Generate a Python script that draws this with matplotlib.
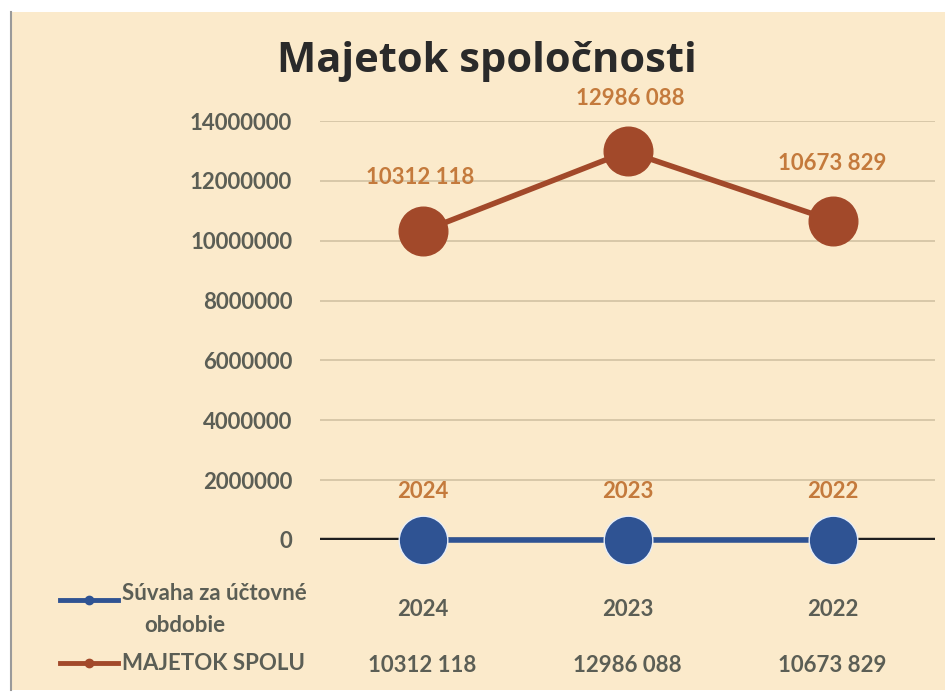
import matplotlib
matplotlib.use("Agg")
import matplotlib.pyplot as plt
import matplotlib.transforms as mtransforms
from matplotlib.lines import Line2D

plt.rcParams['font.family'] = ['Lato', 'DejaVu Sans']

categories = ["2024", "2023", "2022"]
suvaha = [2024, 2023, 2022]
majetok = [10312118, 12986088, 10673829]
majetok_labels = ["10312 118", "12986 088", "10673 829"]
series_names = ["Súvaha za účtovné\nobdobie", "MAJETOK SPOLU"]
yticks = [0, 2000000, 4000000, 6000000, 8000000, 10000000, 12000000, 14000000]

bg = "#fbeacb"
brown = "#a2492a"
blue = "#2f5393"
label_col = "#c47a3c"
tick_col = "#5b5e55"
fs = 16

fig = plt.figure(figsize=(9.47, 6.96), dpi=100)
fig.patch.set_facecolor("white")
# beige chart area with white margin on top and a thin grey left edge
bg_rect = plt.Rectangle((12 / 947, 6 / 696), 933 / 947, 678 / 696,
                        transform=fig.transFigure, facecolor=bg,
                        edgecolor="none", zorder=-5)
fig.patches.append(bg_rect)
fig.add_artist(Line2D([11 / 947, 11 / 947], [6 / 696, 684 / 696],
                      transform=fig.transFigure, color="#9a9a9a", lw=1.5))

ax = fig.add_axes([320 / 947, 1 - 540 / 696, 615 / 947, (540 - 121) / 696])
ax.set_facecolor("none")
x = range(len(categories))
ax.set_xlim(-0.5, len(categories) - 0.5)
ax.set_ylim(0, 14000000)
ax.set_yticks(yticks)
ax.set_yticklabels([str(v) for v in yticks], fontsize=fs, fontweight="bold",
                   color=tick_col)
ax.tick_params(axis="y", length=0, pad=20)
ax.set_xticks([])
for s in ax.spines.values():
    s.set_visible(False)
for v in yticks[1:]:
    ax.axhline(v, color="#d5c5a6", lw=1.3, zorder=1)
ax.axhline(0, color="#1e1e1e", lw=3.2, zorder=2)

ax.plot(x, majetok, color=brown, lw=4, marker="o", ms=35,
        markeredgecolor=brown, zorder=4, clip_on=False)
ax.plot(x, [0 for _ in suvaha], color=blue, lw=4, marker="o", ms=35,
        markeredgecolor="#e8eef8", markeredgewidth=1, zorder=4, clip_on=False)

offsets = [(-2, 54), (3, 53), (0, 57)]
for i, (lab, off) in enumerate(zip(majetok_labels, offsets)):
    ax.annotate(lab, (i, majetok[i]), xytext=off, textcoords="offset pixels",
                ha="center", va="center", fontsize=fs, fontweight="bold",
                color=label_col, zorder=5)
for i, v in enumerate(suvaha):
    ax.annotate(str(v), (i, 0), xytext=(0, 48), textcoords="offset pixels",
                ha="center", va="center", fontsize=fs, fontweight="bold",
                color=label_col, zorder=5)

fig.text(487 / 947, 1 - 62 / 696, "Majetok spoločnosti", ha="center",
         va="center", fontsize=30, fontweight="bold", color="#2a2a2a",
         family=["Open Sans", "DejaVu Sans"])

# data table below the plot
trans = mtransforms.blended_transform_factory(ax.transData, fig.transFigure)
row_y = [1 - 610 / 696, 1 - 665 / 696]
row_vals = [[str(v) for v in suvaha], majetok_labels]
for ry, vals in zip(row_y, row_vals):
    for i, t in enumerate(vals):
        fig.text(i, ry, t, transform=trans, ha="center", va="center",
                 fontsize=fs, fontweight="bold", color=tick_col)

key_colors = [blue, brown]
key_y = [1 - 600 / 696, 1 - 663 / 696]
for c, ky in zip(key_colors, key_y):
    fig.add_artist(Line2D([60 / 947, 118 / 947], [ky, ky],
                          transform=fig.transFigure, color=c, lw=3.5))
    fig.add_artist(Line2D([89 / 947], [ky], transform=fig.transFigure,
                          color=c, marker="o", ms=6))
fig.text(122 / 947, 1 - 593 / 696, "Súvaha za účtovné", ha="left",
         va="center", fontsize=fs, fontweight="bold", color=tick_col)
fig.text(185 / 947, 1 - 626 / 696, "obdobie", ha="center", va="center",
         fontsize=fs, fontweight="bold", color=tick_col)
fig.text(122 / 947, key_y[1], series_names[1], ha="left", va="center",
         fontsize=fs, fontweight="bold", color=tick_col)

fig.savefig("out.png", dpi=100, facecolor=fig.get_facecolor())
